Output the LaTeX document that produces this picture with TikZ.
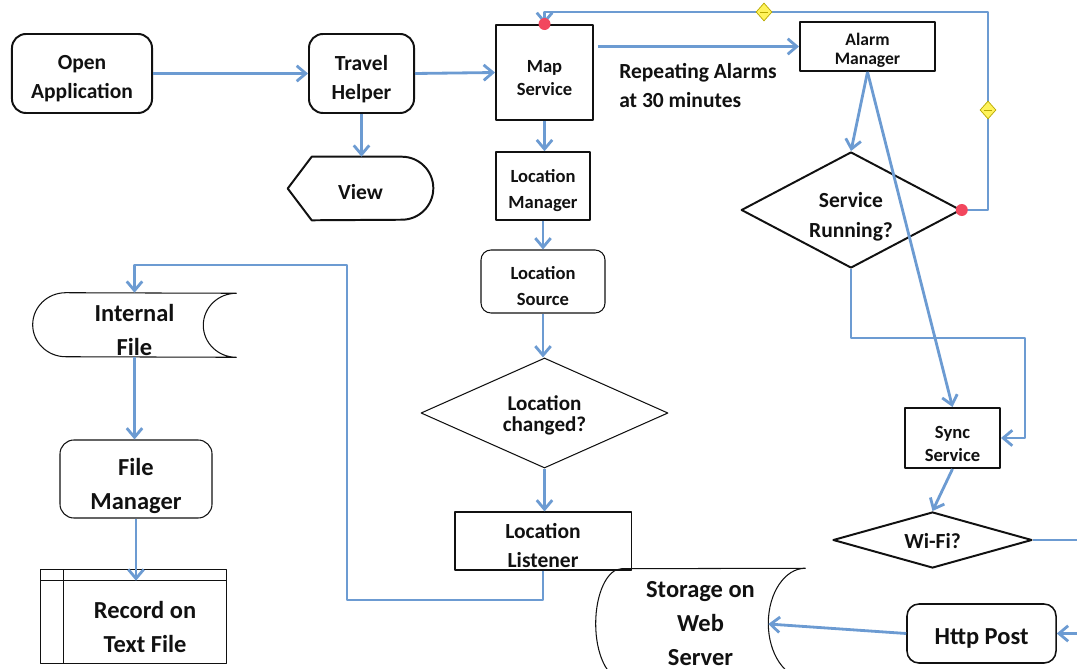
\documentclass[tikz,border=0pt]{standalone}
\usepackage{fontspec}
\setmainfont{Carlito}
\usepackage{tikz}
\usetikzlibrary{calc,arrows.meta,shapes.geometric}
\definecolor{ink}{HTML}{111111}
\definecolor{flow}{HTML}{6C9BD2}
\definecolor{dotred}{HTML}{F2475E}
\definecolor{handle}{HTML}{FFF35A}
\definecolor{handleedge}{HTML}{B8A800}
\newcommand\lift[1]{\rule{0pt}{#1}}
\tikzset{
  box/.style={inner sep=0pt, align=center, text=ink},
  heavy/.style={draw=ink, line width=1.4pt, line join=round},
  mid/.style={draw=ink, line width=1.1pt, line join=round},
  light/.style={draw=ink, line width=0.75pt, line join=round},
  fbig/.style={font=\fontsize{17.4}{24.2}\selectfont\bfseries},
  fmid/.style={font=\fontsize{15.3}{20.6}\selectfont\bfseries},
  fsml/.style={font=\fontsize{13.2}{16.4}\selectfont\bfseries},
  link/.style={draw=flow, line width=2pt, line join=round},
  arr/.style={link, -{Straight Barb[length=6.5pt,width=11pt]}},
  reddot/.style={circle, fill=dotred, inner sep=0pt, minimum size=0.3cm},
  ydia/.style={diamond, fill=handle, draw=handleedge, line width=0.5pt, inner sep=0pt,
    minimum width=0.4cm, minimum height=0.45cm,
    path picture={\draw[handleedge, line width=0.6pt]
      ([xshift=-2.5pt]path picture bounding box.center) -- ([xshift=2.5pt]path picture bounding box.center);}}
}
\begin{document}
\begin{tikzpicture}[x=0.025cm, y=-0.025cm]
  \useasboundingbox (0,0) rectangle (1077,669);
  % top row
  \node[box, heavy, rounded corners=0.35cm, fmid, minimum width=3.5cm, minimum height=1.975cm] (open) at (82,73.5) {\lift{17.5pt}Open\\Application};
  \node[box, heavy, rounded corners=0.35cm, fmid, minimum width=2.625cm, minimum height=1.975cm] (travel) at (361.5,73.5) {\lift{18.5pt}Travel\\Helper};
  \node[box, fmid, minimum width=3.625cm, minimum height=1.575cm] (view) at (360.5,188.5) {\lift{16pt}View};
  \draw[heavy] (view.west) -- ($(view.north west)+(24,0)$) -- ($(view.north east)+(-31.5,0)$)
    arc (90:-90:0.7875cm) -- ($(view.south west)+(24,0)$) -- cycle;
  \node[box, heavy, fsml, minimum width=2.425cm, minimum height=2.375cm] (map) at (544.5,72.5) {\lift{17pt}Map\\Service};
  \node[box, heavy, font=\fontsize{12.5}{13.5}\selectfont\bfseries, minimum width=3.375cm, minimum height=1.225cm] (alarm) at (867.5,46.5) {\lift{14pt}Alarm\\Manager};
  \node[fmid, anchor=west, align=left, text=ink, inner sep=0pt] (rep) at (619,86) {Repeating Alarms\\at 30 minutes};

  % location column
  \node[box, mid, font=\fontsize{13.2}{18.5}\selectfont\bfseries, minimum width=2.35cm, minimum height=1.7cm] (locmgr) at (543,186) {\lift{16pt}Location\\Manager};
  \node[box, light, rounded corners=0.25cm, font=\fontsize{13.2}{18.5}\selectfont\bfseries, minimum width=3.1cm, minimum height=1.575cm] (locsrc) at (543,281.5) {\lift{15.5pt}Location\\Source};
  \node[box, light, diamond, aspect=2.2, font=\fontsize{15}{15}\selectfont\bfseries, minimum width=6.175cm, minimum height=2.75cm] (locchg) at (544.5,413) {\lift{14.5pt}Location\\changed?};
  \node[box, light, fmid, minimum width=4.4cm, minimum height=1.45cm] (loclist) at (543,541) {\lift{16.5pt}Location\\Listener};

  % alarm side
  \node[box, heavy, diamond, aspect=2.2, font=\fontsize{15.3}{21.3}\selectfont\bfseries, minimum width=5.45cm, minimum height=2.9cm] (svcrun) at (851,210) {\lift{20pt}Service\\Running?};
  \node[box, heavy, fsml, minimum width=2.375cm, minimum height=1.5cm] (sync) at (952.5,438) {\lift{17pt}Sync\\Service};
  \node[box, heavy, diamond, aspect=2.2, fmid, minimum width=4.975cm, minimum height=1.4cm] (wifi) at (932.5,540) {\lift{12.5pt}Wi-Fi?};
  \node[box, mid, rounded corners=0.3cm, fbig, minimum width=3.725cm, minimum height=1.475cm] (http) at (981.5,633.5) {\lift{18.5pt}Http Post};
  \node[box, fbig, minimum width=5.225cm, minimum height=2.7cm] (storage) at (700.5,624) {Storage on\\Web\\Server};
  \draw[light] ($(storage.north west)+(26,-1)$) arc (90:270:0.65cm and 1.375cm)
    -- (storage.south east) arc (270:90:0.925cm and 1.375cm) -- cycle;

  % file column
  \node[box, fbig, minimum width=5.075cm, minimum height=1.6cm] (intfile) at (134.5,325) {\lift{19pt}Internal\\File};
  \draw[light] ($(intfile.north west)+(33,0)$) arc (90:270:0.825cm and 0.8cm)
    -- (intfile.south east) arc (270:90:0.825cm and 0.8cm) -- cycle;
  \node[box, light, rounded corners=0.35cm, fbig, minimum width=3.8cm, minimum height=1.95cm] (filemgr) at (136,479) {\lift{21.5pt}File\\Manager};
  \node[box, fbig, minimum width=4.05cm, minimum height=2.05cm] (record) at (145,622) {\lift{19.5pt}Record on\\Text File};
  \draw[light] ($(record.north west)+(-23,-11)$) rectangle (record.south east);
  \draw[light] ($(record.north west)+(0,-11)$) -- (record.south west);
  \draw[light] ($(record.north west)+(-23,0)$) -- (record.north east);

  % connectors
  \draw[arr] (open.east) -- (travel.west);
  \draw[arr] (travel.east) -- (map.west);
  \draw[arr] (travel.south) -- (travel.south |- view.north);
  \draw[arr] ($(map.east |- alarm.west)+(4,0)$) -- (alarm.west);
  \draw[arr] (map.south) -- (map.south |- locmgr.north);
  \draw[arr] (locmgr.south) -- (locsrc.north);
  \draw[arr] (locsrc.south) -- (locsrc.south |- locchg.north);
  \draw[arr] (locchg.south) -- (locchg.south |- loclist.north);
  \draw[arr] (loclist.south) |- (347,600) -- (347,265) -| (intfile.north);
  \draw[arr] (intfile.south) -- (intfile.south |- filemgr.north);
  \draw[arr] (filemgr.south) -- (filemgr.south |- record.north);
  \draw[arr] (alarm.south) -- (svcrun.north);
  \draw[arr] (alarm.south) -- (sync.north);
  \coordinate (loopR) at (988,12);
  \draw[arr] (svcrun.east) -| (loopR) -| (map.north);
  \draw[arr] (svcrun.south) |- (1025,338) |- (sync.east);
  \draw[arr] (sync.south) -- (wifi.north);
  \coordinate (wifiout) at (1085,540);
  \draw[link] (wifi.east) -- (wifiout);
  \coordinate (httpin) at (1085,633.5);
  \draw[arr] (httpin) -- (http.east);
  \coordinate (stin) at ($(storage.east)+(-37,0)$);
  \draw[arr] (http.west) -- (stin);

  % editor handles
  \node[reddot] (mk1) at (map.north) {};
  \node[reddot] (mk2) at (svcrun.east) {};
  \node[ydia] (mk3) at (764,12) {};
  \node[ydia] (mk4) at (988,110) {};
\end{tikzpicture}
\end{document}
